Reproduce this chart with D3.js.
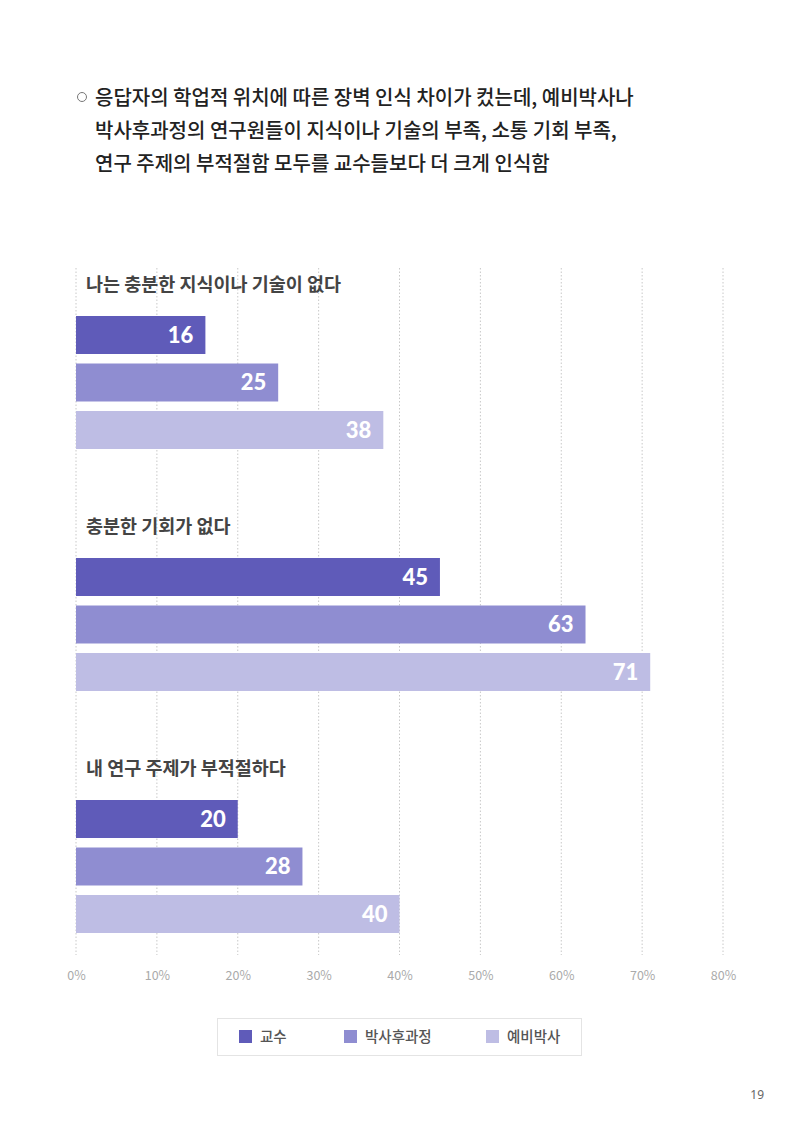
<!DOCTYPE html>
<html><head><meta charset="utf-8">
<script src="https://cdn.jsdelivr.net/npm/d3@7/dist/d3.min.js"></script>
<style>
body{margin:0;background:#fff;}
svg{display:block;}
</style></head>
<body><svg id="c" width="800" height="1132"></svg>
<script>
const headerLines = ["응답자의 학업적 위치에 따른 장벽 인식 차이가 컸는데, 예비박사나","박사후과정의 연구원들이 지식이나 기술의 부족, 소통 기회 부족,","연구 주제의 부적절함 모두를 교수들보다 더 크게 인식함"];
const categories = ["나는 충분한 지식이나 기술이 없다","충분한 기회가 없다","내 연구 주제가 부적절하다"];
const seriesNames = ["교수","박사후과정","예비박사"];
const professor = [16,45,20];
const postdoc = [25,63,28];
const preDoc = [38,71,40];
const tickValues = [0,10,20,30,40,50,60,70,80];
const pageNumber = "19";

const colors = ["#5f5bb9","#8f8dd1","#bebde4"];
const seriesValues = [professor, postdoc, preDoc];

const svg = d3.select("#c");
const KR = "'Noto Sans CJK KR','Noto Sans',sans-serif";

// header
svg.append("circle").attr("cx",82).attr("cy",97).attr("r",4.5).attr("fill","none").attr("stroke","#777").attr("stroke-width",1);
svg.selectAll("text.hdr").data(headerLines).join("text").attr("class","hdr")
  .attr("x",95).attr("y",(d,i)=>105+i*33).text(d=>d)
  .attr("font-family",KR).attr("font-size",20).attr("font-weight",500).attr("fill","#222");

const x = d3.scaleLinear().domain([0,80]).range([76,723]);

// grid
svg.append("g").selectAll("line").data(tickValues).join("line")
  .attr("x1",d=>x(d)).attr("x2",d=>x(d)).attr("y1",268).attr("y2",955)
  .attr("stroke","#c8c8c8").attr("stroke-width",1).attr("stroke-dasharray","1.5,2");

const axis = d3.axisBottom(x).tickValues(tickValues).tickFormat(d=>d+"%").tickSize(0).tickPadding(0);
const ag = svg.append("g").attr("transform","translate(0,980)").call(axis);
ag.select(".domain").remove();
ag.selectAll("text").attr("font-family","'Noto Sans CJK KR','Noto Sans',sans-serif").attr("font-size",12.5).attr("fill","#aaa").attr("dy",0);

const groupTop = [316,558,800];
const band = d3.scaleBand().domain(d3.range(3)).range([0,133]).paddingInner(0.2).paddingOuter(0);

categories.forEach((cat,ci)=>{
  const g = svg.append("g").attr("transform",`translate(0,${groupTop[ci]})`);
  g.append("text").attr("x",86).attr("y",-25).text(cat)
    .attr("font-family",KR).attr("font-size",18.5).attr("font-weight",700).attr("fill","#444");
  seriesValues.forEach((vals,si)=>{
    const v = vals[ci];
    g.append("rect").attr("x",x(0)).attr("y",band(si)).attr("width",x(v)-x(0)).attr("height",band.bandwidth()).attr("fill",colors[si]);
    g.append("text").attr("x",x(v)-12).attr("y",band(si)+band.bandwidth()/2).attr("dy","0.36em")
      .attr("text-anchor","end").text(v)
      .attr("font-family","Lato,'Open Sans',sans-serif").attr("font-size",22).attr("font-weight",900).attr("fill","#fff");
  });
});

// legend
const lg = svg.append("g");
lg.append("rect").attr("x",217.5).attr("y",1018.5).attr("width",364).attr("height",37).attr("fill","#fff").attr("stroke","#e4e4e4");
const legX = [239,344,486];
seriesNames.forEach((n,i)=>{
  lg.append("rect").attr("x",legX[i]).attr("y",1030).attr("width",13).attr("height",13).attr("fill",colors[i]);
  lg.append("text").attr("x",legX[i]+21).attr("y",1037).attr("dy","0.36em").text(n)
    .attr("font-family",KR).attr("font-size",14.5).attr("font-weight",500).attr("fill","#555");
});

svg.append("text").attr("x",764).attr("y",1099).attr("text-anchor","end").text(pageNumber)
  .attr("font-family","'Noto Sans',sans-serif").attr("font-size",12).attr("fill","#666");
</script></body></html>
